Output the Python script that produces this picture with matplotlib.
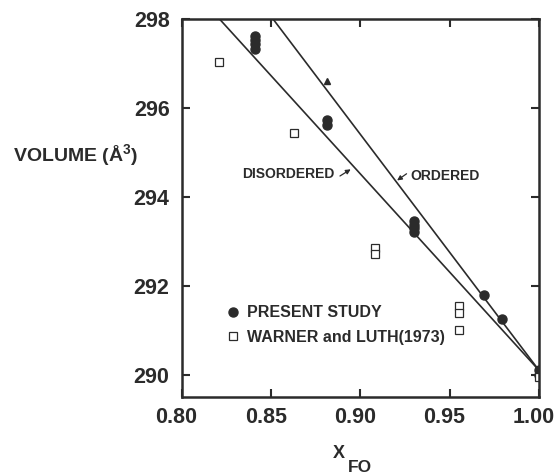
import matplotlib
matplotlib.use("Agg")
import matplotlib.pyplot as plt
from matplotlib.lines import Line2D
from matplotlib.transforms import ScaledTranslation

# present study (filled circles)
present_x = [0.841, 0.841, 0.841, 0.841, 0.881, 0.881,
             0.930, 0.930, 0.930, 0.930, 0.969, 0.979, 1.000, 1.000]
present_y = [297.62, 297.52, 297.43, 297.33, 295.73, 295.62,
             293.45, 293.37, 293.29, 293.20, 291.80, 291.26, 290.10, 290.00]

# single triangle point
tri_x = [0.881]
tri_y = [296.6]

# Warner and Luth (1973), open squares
warner_x = [0.821, 0.863, 0.908, 0.908, 0.955, 0.955, 0.955, 1.000]
warner_y = [297.03, 295.44, 292.85, 292.72, 291.55, 291.40, 291.01, 289.95]

# fitted lines (end points)
disordered_x = [0.821, 1.000]
disordered_y = [298.0, 290.1]
ordered_x = [0.851, 1.000]
ordered_y = [298.0, 290.1]

xticks = [0.80, 0.85, 0.90, 0.95, 1.00]
yticks = [290, 292, 294, 296, 298]

INK = "#2b2b2b"
plt.rcParams["font.family"] = ["Liberation Sans", "DejaVu Sans"]
plt.rcParams["font.weight"] = "bold"

fig = plt.figure(figsize=(5.59, 4.74), dpi=100)
ax = fig.add_axes([0.3256, 0.1624, 0.6386, 0.7975])

ax.plot(disordered_x, disordered_y, color=INK, lw=1.2)
ax.plot(ordered_x, ordered_y, color=INK, lw=1.2)

ax.plot(present_x, present_y, "o", color=INK, ms=6.5, mec=INK)
ax.plot(tri_x, tri_y, "^", color=INK, ms=4.5)
ax.plot(warner_x, warner_y, "s", mfc="white", mec=INK, ms=5.8, mew=0.9)

ax.set_xlim(0.80, 1.00)
ax.set_ylim(289.5, 298.0)
ax.set_xticks(xticks)
ax.set_xticklabels([f"{v:.2f}" for v in xticks])
ax.set_yticks(yticks)
ax.tick_params(direction="in", length=6, width=1.5, top=True, right=True,
               labelsize=15.5, colors=INK)
ax.tick_params(axis="x", pad=7)
ax.tick_params(axis="y", pad=9)
# x tick labels sit a little left of their ticks in the original
shift = ScaledTranslation(-4 / 72, 0, fig.dpi_scale_trans)
for lab in ax.get_xticklabels():
    lab.set_transform(lab.get_transform() + shift)
for s in ax.spines.values():
    s.set_linewidth(1.8)
    s.set_color(INK)

# line labels with small arrows
arrow = dict(arrowstyle="-|>", color=INK, lw=0.9, mutation_scale=7,
             shrinkA=0, shrinkB=0)
ax.text(0.8857, 294.52, "DISORDERED", ha="right", va="center",
        fontsize=10, color=INK)
ax.annotate("", xy=(0.8945, 294.62), xytext=(0.8885, 294.47), arrowprops=arrow)
ax.text(0.9277, 294.47, "ORDERED", ha="left", va="center",
        fontsize=10, color=INK)
ax.annotate("", xy=(0.9205, 294.37), xytext=(0.9258, 294.52), arrowprops=arrow)

handles = [Line2D([], [], ls="", marker="o", color=INK, ms=6.5),
           Line2D([], [], ls="", marker="s", mfc="white", mec=INK, ms=5.8, mew=0.9)]
ax.legend(handles, ["PRESENT STUDY", "WARNER and LUTH(1973)"],
          loc="center left", bbox_to_anchor=(0.125, 0.19), frameon=False,
          handlelength=0.8, handletextpad=0.5, labelspacing=0.6,
          borderpad=0, borderaxespad=0, prop=dict(size=11.5, weight="bold"),
          labelcolor=INK)

fig.text(0.023, 0.672, "VOLUME (Å$^{\\mathregular{3}}$)", fontsize=14,
         color=INK, ha="left", va="center")
fig.text(0.607, 0.034, "X", fontsize=13, color=INK, ha="center", va="baseline")
fig.text(0.644, 0.005, "FO", fontsize=12.5, color=INK, ha="center", va="baseline")

fig.savefig("out.png", dpi=100)
